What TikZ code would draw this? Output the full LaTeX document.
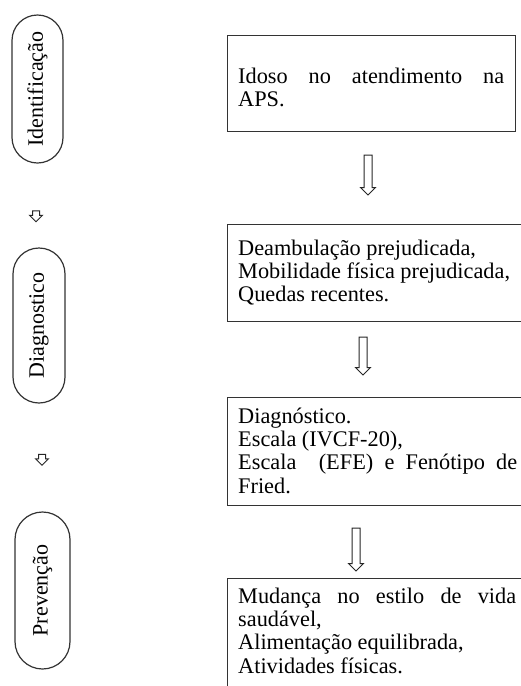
\documentclass[tikz,border=0pt]{standalone}
\usepackage{fontspec}
\setmainfont{Liberation Serif}
\usetikzlibrary{shapes.misc,shapes.arrows}
\begin{document}
\begin{tikzpicture}[x=1pt,y=-1pt,
  box/.style={draw=black!80, line width=1.3pt, inner sep=0pt, anchor=north west},
  txt/.style={inner sep=0pt, anchor=north west, align=justify,
    font=\fontsize{22.3}{23.4}\selectfont},
  pill/.style={draw=black!80, line width=1.2pt, rounded rectangle, rotate=90,
    inner sep=0pt, font=\fontsize{22}{24}\selectfont},
  bigarrow/.style={draw=black!85, line width=1pt, single arrow, shape border rotate=270,
    inner sep=3.5pt, minimum width=14pt, single arrow head extend=3.5pt},
  smallarrow/.style={draw=black!85, line width=1pt, single arrow, shape border rotate=270,
    inner sep=3pt, minimum width=12pt, single arrow head extend=3pt, minimum height=11pt}]
\useasboundingbox (0,0) rectangle (521,686);
\clip (0,0) rectangle (521,686);
\hyphenpenalty=10000
% left pills
\node[pill, minimum width=148pt, minimum height=51pt] (p1) at (37.5,89) {Identificação};
\node[pill, minimum width=155pt, minimum height=52pt] (p2) at (39,325.5) {Diagnostico};
\node[pill, minimum width=157pt, minimum height=55pt] (p3) at (42.5,590.5) {Prevenção};
\node[smallarrow] (s1) at (36,214.5) {};
\node[smallarrow] (s2) at (42,458) {};
% right boxes
\node[box, minimum width=288pt, minimum height=96pt] (b1) at (227,35) {};
\node[box, minimum width=310pt, minimum height=97pt] (b2) at (227,224) {};
\node[box, minimum width=310pt, minimum height=108pt] (b3) at (227,397) {};
\node[box, minimum width=310pt, minimum height=130pt] (b4) at (227,578) {};
\node[txt, text width=266pt] (t1) at (238,66.5)
  {\strut Idoso no atendimento na\linebreak APS.};
\node[txt, text width=279pt] (t2) at (238,238.5)
  {\strut Deambulação prejudicada,\newline Mobilidade física prejudicada,\newline Quedas recentes.};
\node[txt, text width=279pt] (t3) at (238,406.5)
  {\strut Diagnóstico.\newline Escala (IVCF-20),\newline Escala~~(EFE) e Fenótipo de\linebreak Fried.};
\node[txt, text width=278pt] (t4) at (238,586.5)
  {\strut Mudança no estilo de vida\linebreak saudável,\newline Alimentação equilibrada,\newline Atividades físicas.};
% big arrows
\node[bigarrow, minimum height=40pt] (a1) at (368,173) {};
\node[bigarrow, minimum height=38pt] (a2) at (363,354) {};
\node[bigarrow, minimum height=43pt] (a3) at (356,547.5) {};
\end{tikzpicture}
\end{document}
